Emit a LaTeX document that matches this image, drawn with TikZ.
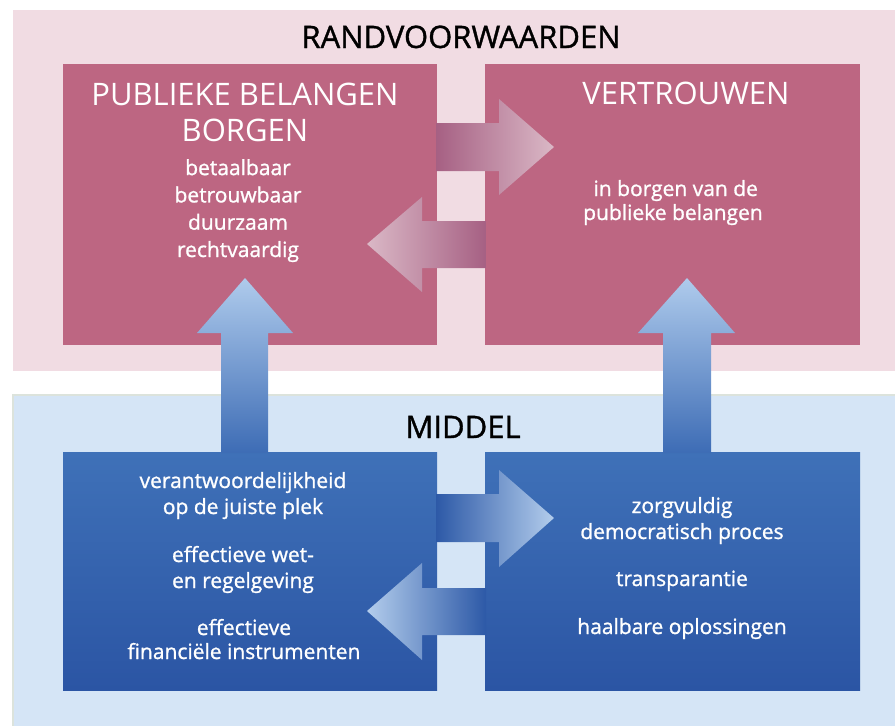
\documentclass[tikz,border=0pt]{standalone}
\usepackage{fontspec}
\setmainfont{Open Sans}
\newfontfamily\semibold[FakeBold=1.1]{Open Sans}
\definecolor{bandpink}{HTML}{F1DCE3}
\definecolor{boxpink}{HTML}{BD6682}
\definecolor{pinkdark}{HTML}{A66083}
\definecolor{pinklight}{HTML}{DAB8C6}
\definecolor{bandblue}{HTML}{D5E5F6}
\definecolor{bandedge}{HTML}{DCE3DC}
\definecolor{bluetop}{HTML}{3F71B8}
\definecolor{bluebottom}{HTML}{2B55A4}
\definecolor{bluedark}{HTML}{2D59A7}
\definecolor{bluelight}{HTML}{B3CDEC}
\definecolor{uptop}{HTML}{AFCBEC}
\definecolor{upbottom}{HTML}{3D6CB5}

\begin{document}
\begin{tikzpicture}[x=1pt, y=-1pt,
		bandtitle/.style={font=\semibold\fontsize{31}{36}\selectfont, anchor=base, inner sep=0pt},
		header/.style={font=\fontsize{31}{36}\selectfont, text=white, align=center, anchor=base, inner sep=0pt},
		body/.style={font=\semibold\fontsize{21}{26}\selectfont, text=white, align=center, anchor=base, inner sep=0pt}]
			%%%%% START %%%%%
			\useasboundingbox (0, 0) rectangle (895, 726);
			
			\fill[bandpink] (13, 10) rectangle (895, 371);
			\draw[fill=bandblue, draw=bandedge, line width=2pt] (13, 395) rectangle (897, 728);
			
			\fill[boxpink] (63, 64) rectangle (437, 345);
			\fill[boxpink] (485, 64) rectangle (860, 345);
			\shade[top color=bluetop, bottom color=bluebottom] (63, 452) rectangle (437, 690);
			\shade[top color=bluetop, bottom color=bluebottom] (485, 452) rectangle (860, 690);
			
			% up arrows
			\shade[top color=uptop, bottom color=upbottom] (221, 453) -- (221, 333) -- (197, 333) -- (245, 278) -- (293, 333) -- (268, 333) -- (268, 453) -- cycle;
			\shade[top color=uptop, bottom color=upbottom] (663, 453) -- (663, 333) -- (638, 333) -- (687, 278) -- (735, 333) -- (711, 333) -- (711, 453) -- cycle;
			
			% pink arrows
			\shade[left color=pinkdark, right color=pinklight] (436, 123) -- (499, 123) -- (499, 99) -- (554, 147) -- (499, 195) -- (499, 171) -- (436, 171) -- cycle;
			\shade[left color=pinklight, right color=pinkdark] (486, 221) -- (422, 221) -- (422, 197) -- (367, 244) -- (422, 292) -- (422, 268) -- (486, 268) -- cycle;
			
			% blue arrows
			\shade[left color=bluedark, right color=bluelight] (436, 494) -- (499, 494) -- (499, 470) -- (554, 518) -- (499, 567) -- (499, 542) -- (436, 542) -- cycle;
			\shade[left color=bluelight, right color=bluedark] (486, 588) -- (422, 588) -- (422, 563) -- (367, 611) -- (422, 660) -- (422, 635) -- (486, 635) -- cycle;
			
			% texts, placed at the baseline of their last line
			\node[bandtitle] (randvoorwaarden) at (461, 48) {RANDVOORWAARDEN};
			\node[bandtitle] (middel) at (463, 438) {MIDDEL};
			
			\node[header] (borgen) at (245, 141) {PUBLIEKE BELANGEN\\BORGEN};
			\node[body, font=\semibold\fontsize{21}{27.3}\selectfont] (waarden) at (238, 257) {betaalbaar\\betrouwbaar\\duurzaam\\rechtvaardig};
			
			\node[header] (vertrouwen) at (686, 104) {VERTROUWEN};
			\node[body, font=\semibold\fontsize{21}{24}\selectfont] (inborgen) at (673, 220) {\ in borgen van de\\publieke belangen};
			
			\node[body] (verantwoordelijkheid) at (243, 514) {verantwoordelijkheid\\op de juiste plek};
			\node[body] (regelgeving) at (243, 588) {effectieve wet-\\en regelgeving};
			\node[body, font=\semibold\fontsize{21}{24}\selectfont] (instrumenten) at (244, 659) {effectieve\\financiële instrumenten};
			
			\node[body] (democratisch) at (682, 539) {zorgvuldig\\democratisch proces};
			\node[body] (transparantie) at (682, 586) {transparantie};
			\node[body] (oplossingen) at (682, 634) {haalbare oplossingen};
			%%%%% END %%%%%
\end{tikzpicture}
\end{document}
